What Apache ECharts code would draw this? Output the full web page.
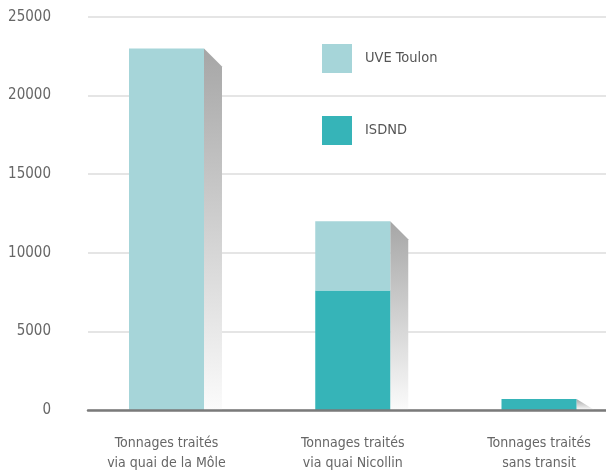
<html>
<head>
<meta charset="utf-8">
<title>Tonnages traités</title>
<script src="https://cdn.jsdelivr.net/npm/echarts@6/dist/echarts.min.js"></script>
<style>
  body { margin: 0; background: #fff; }
</style>
<script type="text/javascript">
  // data
  var categories = ['Tonnages traités\nvia quai de la Môle', 'Tonnages traités\nvia quai Nicollin', 'Tonnages traités\nsans transit'];
  var isdnd = [0, 7600, 700];
  var uveToulon = [23000, 4400, 0];
  var yTicks = [0, 5000, 10000, 15000, 20000, 25000];

  var FONT = '"DejaVu Sans Condensed", sans-serif';

  function init() {
    var chart = echarts.init(document.getElementById('main'), null, {renderer: 'canvas'});

    // totals for the grey side face of each column
    var totals = categories.map(function (c, i) { return [i, isdnd[i] + uveToulon[i]]; });

    function sideFace(params, api) {
      var top = api.coord([api.value(0), api.value(1)]);
      var base = api.coord([api.value(0), 0]);
      var x1 = top[0] + 37.5;
      var d = 18;
      var bottom = base[1];
      var y2 = Math.min(top[1] + d, bottom);
      return {
        type: 'polygon',
        shape: { points: [[x1, top[1]], [x1 + d, y2], [x1 + d, bottom], [x1, bottom]] },
        style: {
          fill: new echarts.graphic.LinearGradient(0, 0, 0, 1, [
            {offset: 0, color: '#a6a6a6'},
            {offset: 1, color: '#fbfbfb'}
          ])
        }
      };
    }

    var option = {
      animation: false,
      textStyle: { fontFamily: FONT },
      legend: {
        orient: 'vertical',
        left: 322, top: 44, padding: 0,
        itemWidth: 30, itemHeight: 29, itemGap: 43,
        icon: 'rect',
        data: ['UVE Toulon', 'ISDND'],
        textStyle: { fontFamily: FONT, fontSize: 14.5, color: '#555', padding: [2, 0, 0, 8] }
      },
      grid: [
        { left: 88, right: 0, top: 17, bottom: 63 },
        { left: 166.5, right: 67, top: 17, bottom: 63 }
      ],
      xAxis: [
        { gridIndex: 0, type: 'category', data: categories, z: 10,
          axisLine: { lineStyle: { color: '#7a7a7a', width: 2.5 } },
          axisTick: { show: false }, axisLabel: { show: false } },
        { gridIndex: 1, type: 'category', data: categories, boundaryGap: false,
          axisLine: { show: false }, axisTick: { show: false },
          axisLabel: { margin: 23, fontFamily: FONT, fontSize: 14, lineHeight: 20, color: '#666' } }
      ],
      yAxis: [
        { gridIndex: 0, type: 'value', min: yTicks[0], max: yTicks[yTicks.length - 1], interval: 5000,
          axisLine: { show: false }, axisTick: { show: false },
          splitLine: { lineStyle: { color: '#dcdcdc', width: 1.5 } },
          axisLabel: { margin: 37, fontFamily: FONT, fontSize: 15, color: '#666', padding: [4, 0, 0, 0],
            formatter: function (v) { return String(v); } } },
        { gridIndex: 1, type: 'value', min: 0, max: 25000, show: false, splitLine: { show: false } }
      ],
      series: [
        { type: 'custom', xAxisIndex: 1, yAxisIndex: 1, data: totals, renderItem: sideFace, silent: true },
        { name: 'ISDND', type: 'bar', stack: 'total', xAxisIndex: 1, yAxisIndex: 1,
          barWidth: 75, data: isdnd, itemStyle: { color: '#36b4b8' } },
        { name: 'UVE Toulon', type: 'bar', stack: 'total', xAxisIndex: 1, yAxisIndex: 1,
          barWidth: 75, data: uveToulon, itemStyle: { color: '#a6d5d9' } }
      ]
    };
    chart.setOption(option);
  }
</script>
</head>
<body onload="init();">
  <div id="main" style="width: 606px; height: 473px;"></div>
</body>
</html>
